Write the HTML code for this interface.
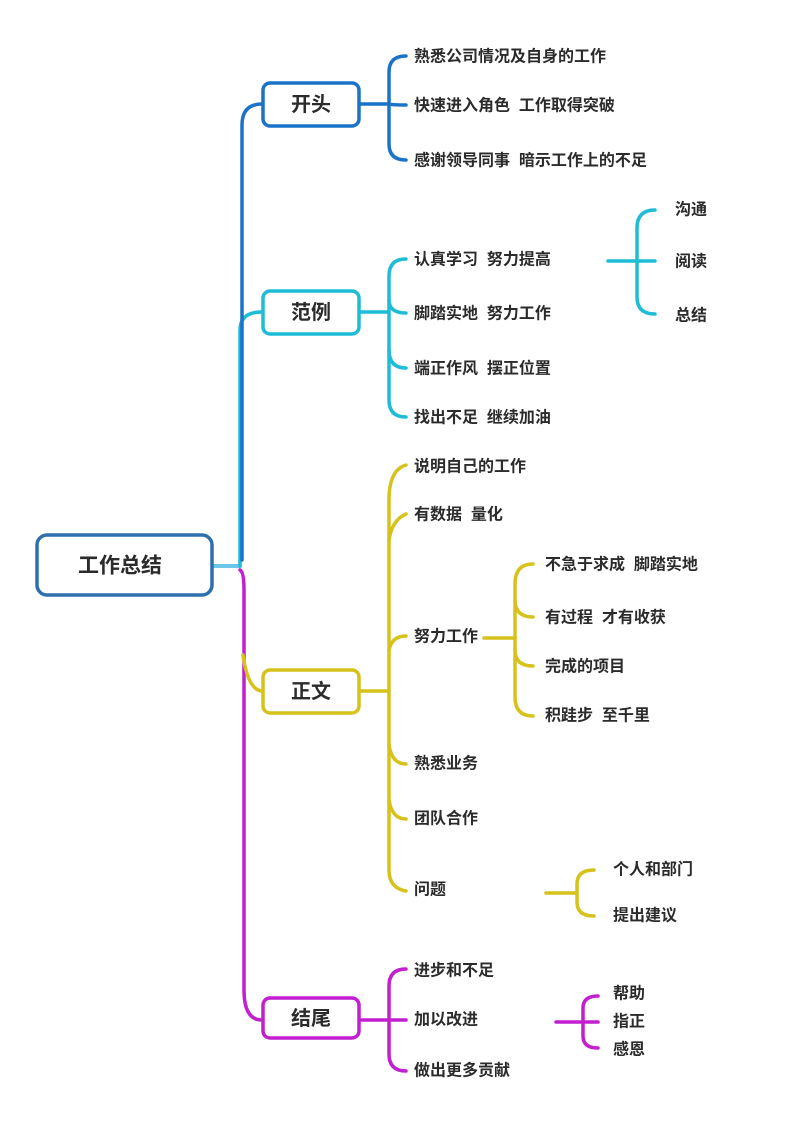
<!DOCTYPE html>
<html><head><meta charset="utf-8"><style>
html,body{margin:0;padding:0;background:#fff;}
svg{display:block}
text{font-family:"Liberation Sans","Noto Sans CJK SC",sans-serif;font-weight:bold;fill:#2b2b2b;dominant-baseline:central;white-space:pre}
.t{font-size:16px}
.b{font-size:20px;text-anchor:middle}
</style></head><body>
<svg width="800" height="1131" viewBox="0 0 800 1131" xmlns="http://www.w3.org/2000/svg" xml:space="preserve">
<g fill="none" stroke-width="3.5" stroke-linecap="round">
<path d="M212 566 H240" stroke="#6cc7e8" stroke-width="4"/>
<path d="M240 566 V330 Q240 312 262 312" stroke="#1fbcd6"/>
<path d="M242 560 V125 Q242 104 262 104" stroke="#1a73c8"/>
<path d="M240 570 Q244 572 244 590 V990 Q244 1020 262 1020" stroke="#c21fd0"/>
<path d="M243 655 Q248 690 262 691" stroke="#d6c21a"/>
<g stroke="#1a73c8">
<path d="M359 104 H388"/>
<path d="M406 56 Q389 56 389 72 V144 Q389 160 406 160"/>
<path d="M389 104 Q392 105 406 105"/>
</g>
<g stroke="#1fbcd6">
<path d="M359 312 H388"/>
<path d="M406 259 Q389 259 389 276 V400 Q389 417 406 417"/>
<path d="M389 300 Q389 313 406 313"/>
<path d="M389 350 Q389 368 406 368"/>
<path d="M608 261 H655"/>
<path d="M655 210 Q637 210 637 228 V297 Q637 314 655 314"/>
</g>
<g stroke="#d6c21a">
<path d="M359 691 H388"/>
<path d="M406 465 Q389 470 389 500 V870 Q389 888 406 891"/>
<path d="M389 540 Q392 520 406 514"/>
<path d="M389 650 Q392 636 406 636"/>
<path d="M389 745 Q392 764 406 764"/>
<path d="M389 800 Q392 819 406 819"/>
<path d="M484 638 H515"/>
<path d="M533 564 Q515 564 515 584 V697 Q515 716 533 716"/>
<path d="M515 600 Q515 617 533 617"/>
<path d="M515 650 Q515 666 533 666"/>
<path d="M546 893 H577"/>
<path d="M594 870 Q577 870 577 884 V902 Q577 916 594 916"/>
</g>
<g stroke="#c21fd0">
<path d="M359 1020 H388"/>
<path d="M406 969 Q389 969 389 986 V1054 Q389 1071 406 1071"/>
<path d="M389 1020 H406"/>
<path d="M556 1022 H598"/>
<path d="M598 996 Q583 996 583 1008 V1036 Q583 1048 598 1048"/>
</g>
</g>
<g fill="#fff" stroke-width="3.5">
<rect x="37" y="535" width="175" height="60" rx="10" stroke="#2e6fad"/>
<rect x="263" y="83" width="96" height="43" rx="7" stroke="#1a73c8"/>
<rect x="263" y="291" width="96" height="43" rx="7" stroke="#1fbcd6"/>
<rect x="263" y="670" width="96" height="43" rx="7" stroke="#d6c21a"/>
<rect x="263" y="998" width="96" height="40" rx="7" stroke="#c21fd0"/>
</g>
<text class="b" x="120" y="566" style="font-size:21px">工作总结</text>
<text class="b" x="311" y="105">开头</text>
<text class="b" x="311" y="313">范例</text>
<text class="b" x="311" y="692">正文</text>
<text class="b" x="311" y="1019">结尾</text>

<text class="t" x="414" y="57">熟悉公司情况及自身的工作</text>
<text class="t" x="414" y="106">快速进入角色  工作取得突破</text>
<text class="t" x="414" y="161">感谢领导同事  暗示工作上的不足</text>

<text class="t" x="414" y="260">认真学习  努力提高</text>
<text class="t" x="414" y="314">脚踏实地  努力工作</text>
<text class="t" x="414" y="369">端正作风  摆正位置</text>
<text class="t" x="414" y="418">找出不足  继续加油</text>
<text class="t" x="675" y="210">沟通</text>
<text class="t" x="675" y="262">阅读</text>
<text class="t" x="675" y="316">总结</text>

<text class="t" x="414" y="467">说明自己的工作</text>
<text class="t" x="414" y="515">有数据  量化</text>
<text class="t" x="414" y="637">努力工作</text>
<text class="t" x="414" y="764">熟悉业务</text>
<text class="t" x="414" y="819">团队合作</text>
<text class="t" x="414" y="890">问题</text>
<text class="t" x="545" y="565">不急于求成  脚踏实地</text>
<text class="t" x="545" y="618">有过程  才有收获</text>
<text class="t" x="545" y="667">完成的项目</text>
<text class="t" x="545" y="716">积跬步  至千里</text>
<text class="t" x="613" y="870">个人和部门</text>
<text class="t" x="613" y="916">提出建议</text>

<text class="t" x="414" y="971">进步和不足</text>
<text class="t" x="414" y="1020">加以改进</text>
<text class="t" x="414" y="1071">做出更多贡献</text>
<text class="t" x="613" y="994">帮助</text>
<text class="t" x="613" y="1022">指正</text>
<text class="t" x="613" y="1050">感恩</text>
</svg>
</body></html>
